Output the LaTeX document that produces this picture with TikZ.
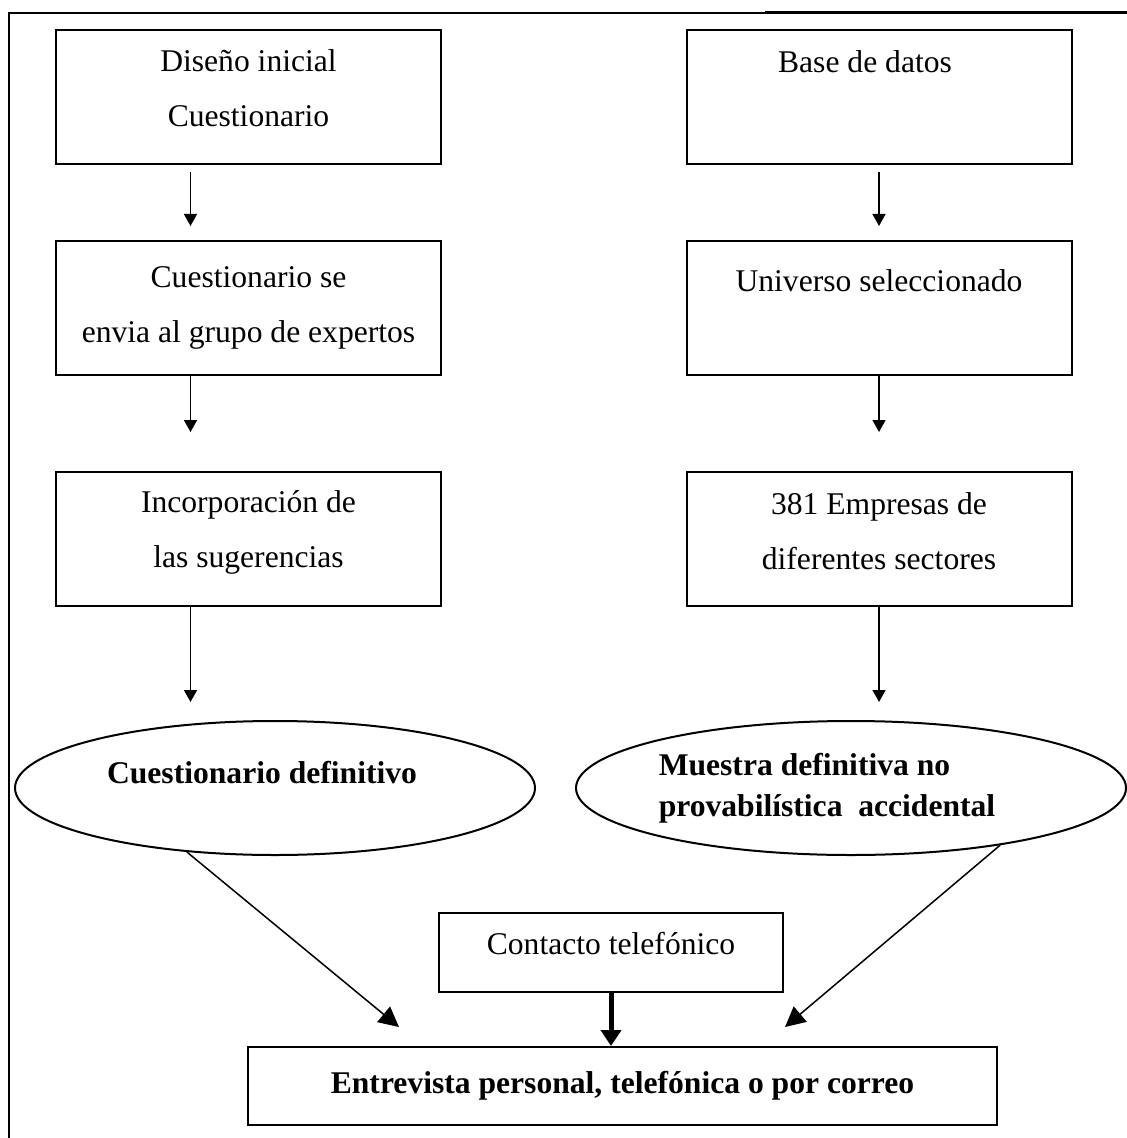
\documentclass[tikz,border=0pt]{standalone}
\usepackage{fontspec}
\setmainfont{Liberation Serif}
\usetikzlibrary{shapes.geometric, arrows.meta}

\begin{document}
\begin{tikzpicture}[
            x = 0.5pt, y = -0.5pt,
            every node/.style={font=\fontsize{15.8}{27.5}\selectfont, inner sep=0pt},
            box/.style={draw, line width=1pt, rectangle, minimum width=192.5pt, minimum height=67pt, align=center},
            oval/.style={draw, line width=1pt, ellipse, minimum height=67pt},
            line/.style={line width=.75pt},
            arrow/.style={line, -{Triangle[width=6.5pt, length=6pt]}},
            bigarrow/.style={line, -{Triangle[width=10pt, length=10pt]}},
            thickarrow/.style={line width=2.5pt, -{Triangle[width=10pt, length=8pt]}},
            ]

        \useasboundingbox (0, 0) rectangle (1127, 1138);

        % frame
        \draw[line width=1pt] (9, 1138) -- (9, 13) -- (765, 13);
        \draw[line width=1.4pt] (765, 12.5) -- (1127, 12.5);

        \node[box, text depth=9pt] (dis) at (248.5, 97.5) {Diseño inicial\\Cuestionario};
        \node[box] (env) at (248.5, 308) {Cuestionario se\\envia al grupo de expertos};
        \node[box, text depth=10.4pt] (inc) at (248.5, 539) {Incorporación de\\las sugerencias};
        \node[box, text depth=8pt] (base) at (879, 97.5) {Base de datos\hspace*{14pt}\\ \mbox{}};
        \node[box] (univ) at (879, 308) {Universo seleccionado\\ \mbox{}};
        \node[box, text depth=8pt] (emp) at (879, 539) {381 Empresas de\\diferentes sectores};

        \node[oval, minimum width=260pt, text depth=16pt] (cdef) at (275, 788)
            {\textbf{Cuestionario definitivo}\hspace*{13pt}};
        \node[oval, minimum width=275pt, align=left, font=\fontsize{15.8}{20.5}\selectfont] (mdef) at (851, 788)
            {\textbf{Muestra definitiva no}\\\textbf{provabilística\ \ accidental}\hspace*{24pt}};

        \node[box, minimum width=172pt, minimum height=39.5pt, text depth=9pt] (tel) at (611, 952.5) {Contacto telefónico};
        \node[box, minimum width=374.5pt, minimum height=39pt] (ent) at (622.5, 1086)
            {\textbf{Entrevista personal, telefónica o por correo}};

        \draw[arrow, shorten >=7pt] ([xshift=-29pt, yshift=-3.5pt]dis.south) -- ([xshift=-29pt]env.north);
        \draw[arrow, shorten >=19.5pt] ([xshift=-29pt]env.south) -- ([xshift=-29pt]inc.north);
        \draw[arrow, shorten >=9pt] ([xshift=-29pt]inc.south) -- ([xshift=-29pt]inc.south |- cdef.north);
        \draw[arrow, shorten >=7pt] ([yshift=-3.5pt]base.south) -- (univ.north);
        \draw[arrow, shorten >=19.5pt] (univ.south) -- (emp.north);
        \draw[arrow, shorten >=9pt] (emp.south) -- (emp.south |- mdef.north);

        \draw[bigarrow] (cdef.216) -- ([xshift=76pt, yshift=9.5pt]ent.north west);
        \draw[bigarrow] (mdef.339) -- ([xshift=269pt, yshift=9.5pt]ent.north west);
        \draw[thickarrow] (tel.south) -- (tel.south |- ent.north);
    \end{tikzpicture}
\end{document}
